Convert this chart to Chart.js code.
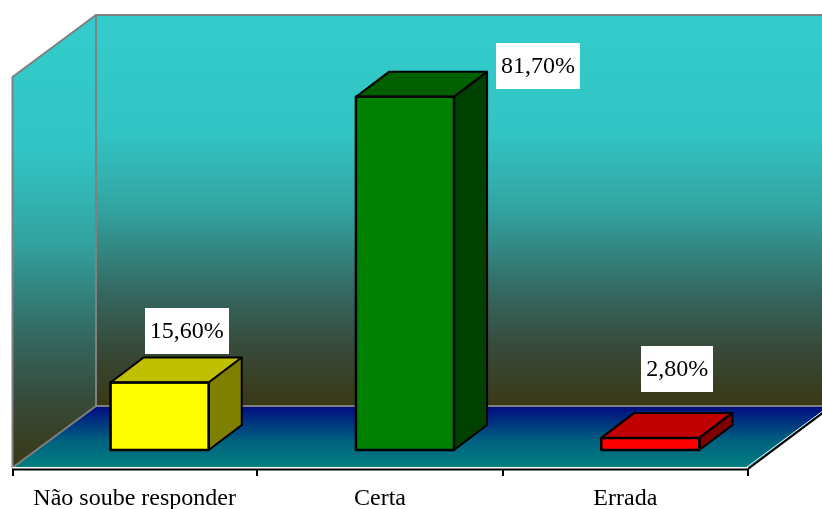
<!DOCTYPE html>
<html>
<head>
<meta charset="utf-8">
<script src="https://cdn.jsdelivr.net/npm/chart.js@4/dist/chart.umd.min.js"></script>
<style>
  html, body { margin: 0; padding: 0; background: #ffffff; }
  #c { display: block; }
</style>
</head>
<body>
<canvas id="c" width="822" height="509"></canvas>
<script>
// ---- data ----
const categories = ['Não soube responder', 'Certa', 'Errada'];
const values = [15.6, 81.7, 2.8];
const valueLabels = ['15,60%', '81,70%', '2,80%'];
const yMax = 90;

// ---- styles ----
const frontColors = ['#FFFF00', '#008000', '#FF0000'];
const topColors = ['#C0C000', '#006000', '#C00000'];
const sideColors = ['#808000', '#004000', '#800000'];
// label centre offsets relative to the bar's front top centre
const labelOffsets = [[27, -52], [133, -31], [27, -69]];

const FRONT = { dx: -25, dy: 18 };   // floor front plane relative to bar plane
const BACK = { dx: 59, dy: -44 };    // back wall plane relative to bar plane
const DEPTH = { dx: 33, dy: -25 };   // bar depth
const SERIF = '"Liberation Serif", "Times New Roman", serif';

function wallGradient(ctx, y0, y1) {
  const g = ctx.createLinearGradient(0, y0, 0, y1);
  g.addColorStop(0, '#33CCCC');
  g.addColorStop(0.3, '#32C4C4');
  g.addColorStop(0.5, '#32A3A0');
  g.addColorStop(0.7, '#346A63');
  g.addColorStop(0.85, '#374A3A');
  g.addColorStop(1, '#3A3814');
  return g;
}

const scenePlugin = {
  id: 'scene3d',
  beforeDatasetsDraw(chart) {
    const ctx = chart.ctx;
    const ca = chart.chartArea;
    const L = ca.left, R = ca.right, B = ca.bottom;
    const T = ca.top - 2;
    ctx.save();
    // back wall
    const bx0 = L + BACK.dx, by0 = T + BACK.dy, bx1 = R + BACK.dx + 40, by1 = B + BACK.dy;
    ctx.fillStyle = wallGradient(ctx, by0, by1);
    ctx.fillRect(bx0, by0, bx1 - bx0, by1 - by0);
    // side wall
    const fx0 = L + FRONT.dx, fy0 = T + FRONT.dy, fy1 = B + FRONT.dy;
    ctx.beginPath();
    ctx.moveTo(fx0, fy0);
    ctx.lineTo(bx0, by0);
    ctx.lineTo(bx0, by1);
    ctx.lineTo(fx0, fy1);
    ctx.closePath();
    ctx.fillStyle = wallGradient(ctx, by0, fy1);
    ctx.fill();
    // floor
    const fx1 = R + FRONT.dx;
    const fg = ctx.createLinearGradient(0, by1, 0, fy1);
    fg.addColorStop(0, '#000A80');
    fg.addColorStop(0.55, '#00607F');
    fg.addColorStop(1, '#008080');
    ctx.beginPath();
    ctx.moveTo(fx0, fy1);
    ctx.lineTo(bx0, by1);
    ctx.lineTo(R + BACK.dx, by1);
    ctx.lineTo(fx1, fy1);
    ctx.closePath();
    ctx.fillStyle = fg;
    ctx.fill();

    // gray edges
    ctx.strokeStyle = '#808080';
    ctx.lineWidth = 2;
    ctx.beginPath();
    ctx.moveTo(fx0 + 0.5, fy1);
    ctx.lineTo(fx0 + 0.5, fy0);
    ctx.lineTo(bx0, by0);
    ctx.lineTo(bx1, by0);
    ctx.moveTo(bx0, by0);
    ctx.lineTo(bx0, by1);
    ctx.lineTo(bx1, by1);
    ctx.moveTo(bx0, by1);
    ctx.lineTo(fx0, fy1);
    ctx.stroke();
    // right floor edge
    ctx.strokeStyle = '#ffffff';
    ctx.lineWidth = 1;
    ctx.beginPath();
    ctx.moveTo(fx1 - 1, fy1 - 1);
    ctx.lineTo(R + BACK.dx - 1, by1 - 1);
    ctx.moveTo(fx0, fy1 - 0.5);
    ctx.lineTo(fx1, fy1 - 0.5);
    ctx.stroke();
    ctx.strokeStyle = '#000000';
    ctx.lineWidth = 2;
    ctx.beginPath();
    ctx.moveTo(fx1, fy1 + 1);
    ctx.lineTo(R + BACK.dx, by1);
    ctx.stroke();
    // axis line and ticks
    ctx.lineWidth = 2;
    ctx.beginPath();
    ctx.moveTo(fx0, fy1 + 1.5);
    ctx.lineTo(fx1, fy1 + 1.5);
    const n = categories.length;
    for (let i = 0; i <= n; i++) {
      const x = Math.round(fx0 + (fx1 - fx0) * i / n) + (i === 0 ? 1 : 0);
      ctx.moveTo(x, fy1 + 1);
      ctx.lineTo(x, fy1 + 8);
    }
    ctx.stroke();
    // category labels
    const xs = chart.scales.x;
    ctx.fillStyle = '#000000';
    ctx.font = '24px ' + SERIF;
    ctx.textAlign = 'center';
    ctx.textBaseline = 'middle';
    categories.forEach((c, i) => {
      ctx.fillText(c, xs.getPixelForValue(i) + FRONT.dx, fy1 + 31);
    });
    ctx.restore();
  },
  afterDatasetsDraw(chart) {
    const ctx = chart.ctx;
    const meta = chart.getDatasetMeta(0);
    ctx.save();
    ctx.lineWidth = 2;
    ctx.strokeStyle = '#000000';
    ctx.lineJoin = 'round';
    meta.data.forEach((bar, i) => {
      const p = bar.getProps(['x', 'y', 'base', 'width'], true);
      const l = p.x - p.width / 2, r = p.x + p.width / 2, t = p.y, b = p.base;
      // top face
      ctx.beginPath();
      ctx.moveTo(l, t);
      ctx.lineTo(l + DEPTH.dx, t + DEPTH.dy);
      ctx.lineTo(r + DEPTH.dx, t + DEPTH.dy);
      ctx.lineTo(r, t);
      ctx.closePath();
      ctx.fillStyle = topColors[i];
      ctx.fill();
      ctx.stroke();
      // side face
      ctx.beginPath();
      ctx.moveTo(r, t);
      ctx.lineTo(r + DEPTH.dx, t + DEPTH.dy);
      ctx.lineTo(r + DEPTH.dx, b + DEPTH.dy);
      ctx.lineTo(r, b);
      ctx.closePath();
      ctx.fillStyle = sideColors[i];
      ctx.fill();
      ctx.stroke();
      // front outline
      ctx.lineWidth = 2.5;
      ctx.strokeRect(l, t, r - l, b - t);
      ctx.lineWidth = 2;
    });
    // value labels
    ctx.font = '24px ' + SERIF;
    ctx.textAlign = 'center';
    ctx.textBaseline = 'middle';
    meta.data.forEach((bar, i) => {
      const p = bar.getProps(['x', 'y'], true);
      const cx = p.x + labelOffsets[i][0], cy = p.y + labelOffsets[i][1];
      const w = ctx.measureText(valueLabels[i]).width + 10;
      const h = 46;
      ctx.fillStyle = '#ffffff';
      ctx.fillRect(Math.round(cx - w / 2), Math.round(cy - h / 2), Math.round(w), h);
      ctx.fillStyle = '#000000';
      ctx.fillText(valueLabels[i], cx, cy + 1);
    });
    ctx.restore();
  }
};

new Chart(document.getElementById('c'), {
  type: 'bar',
  data: {
    labels: categories,
    datasets: [{
      data: values,
      backgroundColor: frontColors,
      borderColor: '#000000',
      borderWidth: 0,
      categoryPercentage: 0.8,
      barPercentage: 0.5
    }]
  },
  options: {
    responsive: false,
    animation: false,
    devicePixelRatio: 1,
    layout: { padding: { left: 37, right: 49, top: 61, bottom: 59 } },
    plugins: { legend: { display: false }, tooltip: { enabled: false } },
    scales: {
      x: { display: false },
      y: { display: false, min: 0, max: yMax }
    }
  },
  plugins: [scenePlugin]
});
</script>
</body>
</html>
